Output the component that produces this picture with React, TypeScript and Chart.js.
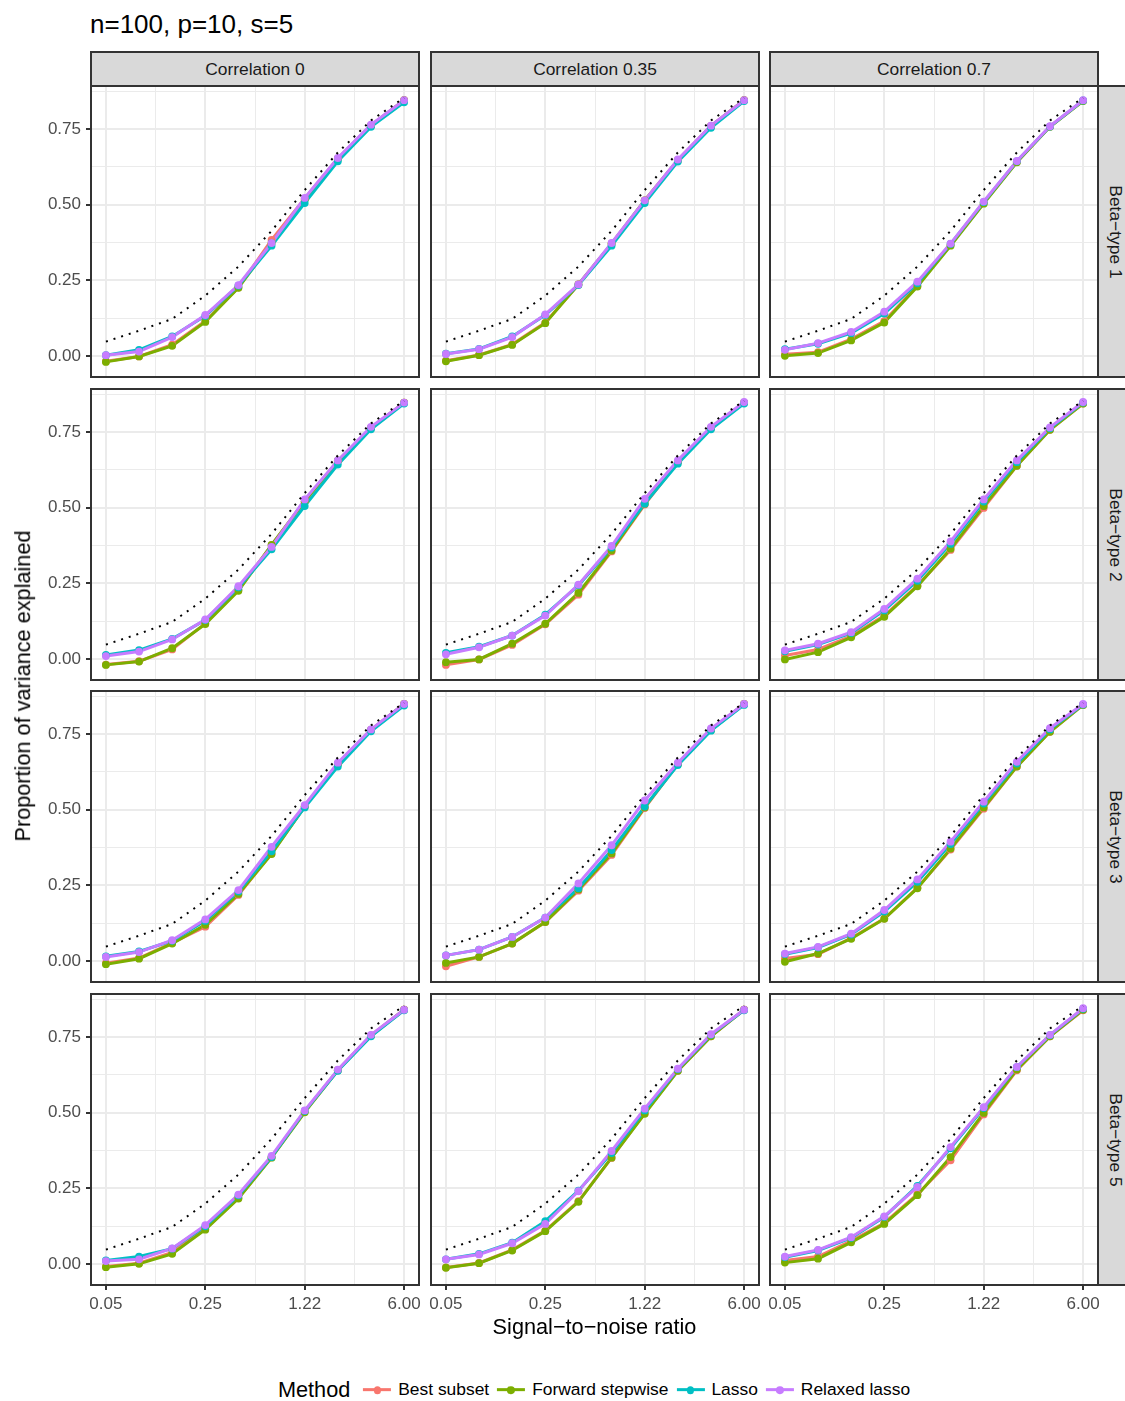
import React, { useEffect, useRef } from 'react';
import { Chart, registerables } from 'chart.js';

Chart.register(...registerables);

// ---------------- data ----------------
const snrLabels = ['0.05', '0.09', '0.14', '0.25', '0.42', '0.71', '1.22', '2.07', '3.52', '6.00'];
const xMajorIdx = [0, 3, 6, 9];
const xGridIdx = [0, 1.5, 3, 4.5, 6, 7.5, 9];
const yGridVals = [0, 0.125, 0.25, 0.375, 0.5, 0.625, 0.75, 0.875];
const yTickVals = [0, 0.25, 0.5, 0.75];
const yTickLabels = ['0.00', '0.25', '0.50', '0.75'];
const correlations = ['Correlation 0', 'Correlation 0.35', 'Correlation 0.7'];
const betaTypes = ['Beta\u2212type 1', 'Beta\u2212type 2', 'Beta\u2212type 3', 'Beta\u2212type 5'];
const methods = ['Best subset', 'Forward stepwise', 'Lasso', 'Relaxed lasso'];
const methodColors = ['#F8766D', '#7CAE00', '#00BFC4', '#C77CFF'];

// oracle (dotted) proportion of variance explained
const oracle = [0.047, 0.083, 0.122, 0.199, 0.295, 0.413, 0.548, 0.672, 0.778, 0.853];

// [betaType row][correlation col] -> values at each SNR
const bestSubset = [
  [
    [-0.018, -0.002, 0.037, 0.115, 0.226, 0.383, 0.52, 0.652, 0.762, 0.845],
    [-0.016, 0.003, 0.038, 0.11, 0.236, 0.37, 0.514, 0.647, 0.76, 0.845],
    [0.005, 0.012, 0.055, 0.115, 0.232, 0.366, 0.505, 0.641, 0.758, 0.843],
  ],
  [
    [-0.019, -0.008, 0.031, 0.117, 0.228, 0.376, 0.52, 0.654, 0.763, 0.847],
    [-0.02, -0.002, 0.046, 0.114, 0.212, 0.355, 0.51, 0.65, 0.762, 0.847],
    [0.011, 0.031, 0.075, 0.143, 0.243, 0.36, 0.499, 0.638, 0.757, 0.844],
  ],
  [
    [-0.008, 0.009, 0.059, 0.113, 0.218, 0.355, 0.51, 0.651, 0.763, 0.849],
    [-0.018, 0.013, 0.057, 0.128, 0.232, 0.35, 0.505, 0.65, 0.763, 0.849],
    [0.008, 0.022, 0.075, 0.14, 0.242, 0.368, 0.503, 0.642, 0.757, 0.846],
  ],
  [
    [-0.009, 0.002, 0.038, 0.116, 0.218, 0.352, 0.503, 0.64, 0.755, 0.84],
    [-0.012, 0.003, 0.046, 0.11, 0.207, 0.35, 0.498, 0.638, 0.752, 0.84],
    [0.011, 0.024, 0.076, 0.135, 0.23, 0.342, 0.494, 0.64, 0.752, 0.838],
  ],
];

const forwardStepwise = [
  [
    [-0.02, -0.002, 0.033, 0.112, 0.225, 0.373, 0.516, 0.651, 0.761, 0.845],
    [-0.018, 0.002, 0.036, 0.108, 0.236, 0.371, 0.514, 0.646, 0.759, 0.845],
    [0.0, 0.009, 0.051, 0.11, 0.229, 0.364, 0.503, 0.64, 0.757, 0.842],
  ],
  [
    [-0.02, -0.009, 0.035, 0.115, 0.225, 0.377, 0.521, 0.655, 0.763, 0.847],
    [-0.011, -0.002, 0.05, 0.116, 0.218, 0.358, 0.513, 0.651, 0.763, 0.847],
    [-0.002, 0.022, 0.071, 0.139, 0.24, 0.364, 0.505, 0.638, 0.757, 0.844],
  ],
  [
    [-0.011, 0.007, 0.057, 0.119, 0.221, 0.353, 0.51, 0.651, 0.763, 0.849],
    [-0.007, 0.013, 0.057, 0.128, 0.236, 0.355, 0.507, 0.651, 0.763, 0.849],
    [-0.003, 0.024, 0.073, 0.139, 0.24, 0.371, 0.507, 0.642, 0.757, 0.846],
  ],
  [
    [-0.011, 0.0, 0.033, 0.113, 0.216, 0.351, 0.501, 0.64, 0.754, 0.84],
    [-0.013, 0.002, 0.044, 0.108, 0.205, 0.351, 0.496, 0.638, 0.752, 0.84],
    [0.004, 0.017, 0.071, 0.132, 0.227, 0.353, 0.499, 0.642, 0.752, 0.84],
  ],
];

const lasso = [
  [
    [0.002, 0.02, 0.064, 0.132, 0.232, 0.364, 0.505, 0.643, 0.757, 0.838],
    [0.007, 0.023, 0.064, 0.135, 0.234, 0.364, 0.505, 0.642, 0.754, 0.842],
    [0.022, 0.04, 0.075, 0.14, 0.24, 0.37, 0.508, 0.643, 0.758, 0.844],
  ],
  [
    [0.013, 0.029, 0.066, 0.128, 0.236, 0.362, 0.505, 0.642, 0.759, 0.844],
    [0.02, 0.04, 0.077, 0.146, 0.243, 0.368, 0.513, 0.645, 0.759, 0.844],
    [0.025, 0.047, 0.085, 0.16, 0.258, 0.38, 0.52, 0.65, 0.762, 0.847],
  ],
  [
    [0.015, 0.031, 0.066, 0.132, 0.229, 0.362, 0.507, 0.642, 0.759, 0.844],
    [0.018, 0.037, 0.079, 0.143, 0.24, 0.366, 0.51, 0.647, 0.761, 0.846],
    [0.022, 0.044, 0.087, 0.163, 0.261, 0.386, 0.52, 0.652, 0.765, 0.847],
  ],
  [
    [0.011, 0.024, 0.05, 0.124, 0.226, 0.353, 0.505, 0.638, 0.752, 0.838],
    [0.015, 0.033, 0.07, 0.141, 0.242, 0.366, 0.507, 0.643, 0.757, 0.838],
    [0.022, 0.044, 0.086, 0.155, 0.258, 0.382, 0.515, 0.65, 0.756, 0.843],
  ],
];

const relaxedLasso = [
  [
    [0.002, 0.014, 0.062, 0.135, 0.234, 0.373, 0.522, 0.654, 0.764, 0.845],
    [0.006, 0.022, 0.062, 0.137, 0.236, 0.373, 0.514, 0.649, 0.761, 0.845],
    [0.02, 0.042, 0.079, 0.146, 0.245, 0.371, 0.51, 0.644, 0.759, 0.845],
  ],
  [
    [0.009, 0.024, 0.064, 0.13, 0.24, 0.37, 0.527, 0.656, 0.767, 0.847],
    [0.015, 0.038, 0.077, 0.143, 0.245, 0.373, 0.529, 0.656, 0.767, 0.849],
    [0.028, 0.05, 0.088, 0.165, 0.265, 0.388, 0.527, 0.656, 0.765, 0.849],
  ],
  [
    [0.013, 0.029, 0.068, 0.137, 0.234, 0.377, 0.515, 0.655, 0.765, 0.849],
    [0.018, 0.037, 0.079, 0.143, 0.256, 0.382, 0.53, 0.655, 0.768, 0.849],
    [0.024, 0.046, 0.09, 0.168, 0.269, 0.394, 0.526, 0.658, 0.769, 0.849],
  ],
  [
    [0.009, 0.015, 0.051, 0.128, 0.229, 0.357, 0.507, 0.642, 0.757, 0.84],
    [0.015, 0.031, 0.068, 0.132, 0.24, 0.373, 0.513, 0.645, 0.759, 0.84],
    [0.024, 0.046, 0.088, 0.157, 0.254, 0.386, 0.518, 0.651, 0.757, 0.845],
  ],
];

const seriesList = [bestSubset, forwardStepwise, lasso, relaxedLasso];

// ---------------- layout / style ----------------
const FONT = '"Liberation Sans", Arial, Helvetica, sans-serif';
const COL_LEFT = [91, 431, 770];
const ROW_TOP = [86, 389, 691, 994];
const PW = 328;
const PH = 291;
const STRIP = 35;
const Y_MIN = -0.07;
const Y_MAX = 0.892;
const X_MIN = -0.45;
const X_MAX = 9.45;
const GRID = '#EBEBEB';
const DARK = '#333333';

function Panel({ row, col }: { row: number; col: number }) {
  const ref = useRef<HTMLCanvasElement>(null);
  const L = col === 0 ? 80 : 0; // y-axis width
  const B = row === 3 ? 36 : 0; // x-axis height
  const padL = row === 3 && col > 0 ? 20 : 0; // room for overflowing x labels
  const padR = row === 3 ? 20 : 0;
  const w = PW + L + padL + padR;
  const h = PH + B;

  useEffect(() => {
    if (!ref.current) return;
    const toXY = (arr: number[]) => arr.map((v, i) => ({ x: i, y: v }));
    const lineSets = seriesList.map((s, i) => ({
      label: methods[i],
      data: toXY(s[row][col]),
      borderColor: methodColors[i],
      borderWidth: 3,
      pointRadius: 0,
      fill: false,
      tension: 0,
      order: 20 - i,
    }));
    const pointSets = seriesList.map((s, i) => ({
      label: methods[i] + ' points',
      data: toXY(s[row][col]),
      showLine: false,
      borderColor: methodColors[i],
      backgroundColor: methodColors[i],
      pointBackgroundColor: methodColors[i],
      pointBorderWidth: 0,
      pointRadius: 3.9,
      order: 10 - i,
    }));
    const oracleSet = {
      label: 'oracle',
      data: toXY(oracle),
      borderColor: '#000000',
      borderWidth: 2,
      borderDash: [2, 6],
      borderCapStyle: 'butt',
      pointRadius: 0,
      fill: false,
      order: 1,
    };
    const isMajorX = (v: number) => xMajorIdx.includes(v);
    const isMajorY = (v: number) => yTickVals.includes(v);

    const chart = new Chart(ref.current, {
      type: 'line',
      data: { datasets: [...lineSets, ...pointSets, oracleSet] as any },
      options: {
        animation: false,
        responsive: false,
        maintainAspectRatio: false,
        events: [],
        layout: { padding: { left: padL, right: padR, top: 0, bottom: 0 }, autoPadding: false },
        plugins: { legend: { display: false }, tooltip: { enabled: false }, title: { display: false } },
        scales: {
          x: {
            type: 'linear',
            min: X_MIN,
            max: X_MAX,
            afterBuildTicks: (s: any) => {
              s.ticks = xGridIdx.map((v) => ({ value: v }));
            },
            afterFit: (s: any) => {
              s.height = B;
              s.paddingLeft = 0;
              s.paddingRight = 0;
            },
            border: { display: false },
            grid: {
              color: GRID,
              lineWidth: (ctx: any) => (isMajorX(ctx.tick?.value) ? 2 : 1),
              drawTicks: row === 3,
              tickLength: 5,
              tickWidth: 2,
              tickColor: (ctx: any) => (isMajorX(ctx.tick?.value) ? DARK : 'rgba(0,0,0,0)'),
            },
            ticks: {
              display: row === 3,
              autoSkip: false,
              maxRotation: 0,
              padding: 4,
              color: '#4D4D4D',
              font: { family: FONT, size: 17 },
              callback: (v: any) => (isMajorX(v) ? snrLabels[v] : ''),
            },
          },
          y: {
            type: 'linear',
            min: Y_MIN,
            max: Y_MAX,
            afterBuildTicks: (s: any) => {
              s.ticks = yGridVals.map((v) => ({ value: v }));
            },
            afterFit: (s: any) => {
              s.width = L;
              s.paddingTop = 0;
              s.paddingBottom = 0;
            },
            border: { display: false },
            grid: {
              color: GRID,
              lineWidth: (ctx: any) => (isMajorY(ctx.tick?.value) ? 2 : 1),
              drawTicks: col === 0,
              tickLength: 5,
              tickWidth: 2,
              tickColor: (ctx: any) => (isMajorY(ctx.tick?.value) ? DARK : 'rgba(0,0,0,0)'),
            },
            ticks: {
              display: col === 0,
              autoSkip: false,
              padding: 5,
              color: '#4D4D4D',
              font: { family: FONT, size: 17 },
              callback: (v: any) => {
                const k = yTickVals.indexOf(v);
                return k >= 0 ? yTickLabels[k] : '';
              },
            },
          },
        },
      } as any,
    });
    return () => chart.destroy();
  }, [row, col]);

  return (
    <>
      <canvas
        ref={ref}
        width={w}
        height={h}
        style={{ position: 'absolute', left: COL_LEFT[col] - L - padL, top: ROW_TOP[row], width: w, height: h }}
      />
      <div
        style={{
          position: 'absolute',
          left: COL_LEFT[col] - 1,
          top: ROW_TOP[row] - 1,
          width: PW + 2,
          height: PH + 2,
          border: `2px solid ${DARK}`,
          boxSizing: 'border-box',
          pointerEvents: 'none',
        }}
      />
    </>
  );
}

function Text({ x, y, text, size, color = '#000', rotate = 0 }: any) {
  return (
    <div
      style={{
        position: 'absolute',
        left: x,
        top: y,
        transform: `translate(-50%, -50%) rotate(${rotate}deg)`,
        whiteSpace: 'nowrap',
        fontFamily: FONT,
        fontSize: size,
        lineHeight: 1,
        color,
      }}
    >
      {text}
    </div>
  );
}

export default function App() {
  const panels = [];
  for (let r = 0; r < 4; r++) for (let c = 0; c < 3; c++) panels.push(<Panel key={`${r}-${c}`} row={r} col={c} />);

  return (
    <div
      style={{
        position: 'absolute',
        left: 0,
        top: 0,
        width: 1125,
        height: 1401,
        overflow: 'hidden',
        background: '#FFFFFF',
        fontFamily: FONT,
      }}
    >
      {/* title */}
      <div style={{ position: 'absolute', left: 90, top: 11, fontSize: 26, lineHeight: 1, color: '#000', whiteSpace: 'nowrap' }}>
        n=100, p=10, s=5
      </div>

      {/* top strips */}
      {correlations.map((t, c) => (
        <div
          key={t}
          style={{
            position: 'absolute',
            left: COL_LEFT[c] - 1,
            top: ROW_TOP[0] - STRIP,
            width: PW + 2,
            height: STRIP + 1,
            background: '#D9D9D9',
            border: `2px solid ${DARK}`,
            boxSizing: 'border-box',
          }}
        >
          <Text x={(PW + 2) / 2 - 2} y={STRIP / 2 - 1} text={t} size={17.4} color="#1A1A1A" />
        </div>
      ))}

      {/* right strips */}
      {betaTypes.map((t, r) => (
        <div
          key={t}
          style={{
            position: 'absolute',
            left: COL_LEFT[2] + PW - 1,
            top: ROW_TOP[r] - 1,
            width: STRIP + 2,
            height: PH + 2,
            background: '#D9D9D9',
            border: `2px solid ${DARK}`,
            boxSizing: 'border-box',
          }}
        >
          <Text x={STRIP / 2 - 2} y={(PH + 2) / 2 - 2} text={t} size={17.4} color="#1A1A1A" rotate={90} />
        </div>
      ))}

      {panels}

      {/* axis titles */}
      <Text x={594.5} y={1327} text={'Signal\u2212to\u2212noise ratio'} size={21.7} />
      <Text x={23} y={685.5} text="Proportion of variance explained" size={21.7} rotate={-90} />

      {/* legend */}
      <div
        style={{
          position: 'absolute',
          left: 594,
          top: 1390,
          transform: 'translate(-50%, -50%)',
          display: 'flex',
          alignItems: 'center',
          whiteSpace: 'nowrap',
          fontFamily: FONT,
        }}
      >
        <span style={{ fontSize: 21.7, marginRight: 13, lineHeight: 1 }}>Method</span>
        {methods.map((m, i) => (
          <div key={m} style={{ display: 'flex', alignItems: 'center', marginRight: i < methods.length - 1 ? 8 : 0 }}>
            <div style={{ position: 'relative', width: 28, height: 20 }}>
              <div style={{ position: 'absolute', left: 0, width: 28, top: 8.5, height: 3, background: methodColors[i] }} />
              <div
                style={{
                  position: 'absolute',
                  left: 14 - 3.8,
                  top: 10 - 3.8,
                  width: 7.6,
                  height: 7.6,
                  borderRadius: '50%',
                  background: methodColors[i],
                }}
              />
            </div>
            <span style={{ fontSize: 17.4, marginLeft: 7, lineHeight: 1 }}>{m}</span>
          </div>
        ))}
      </div>
    </div>
  );
}
